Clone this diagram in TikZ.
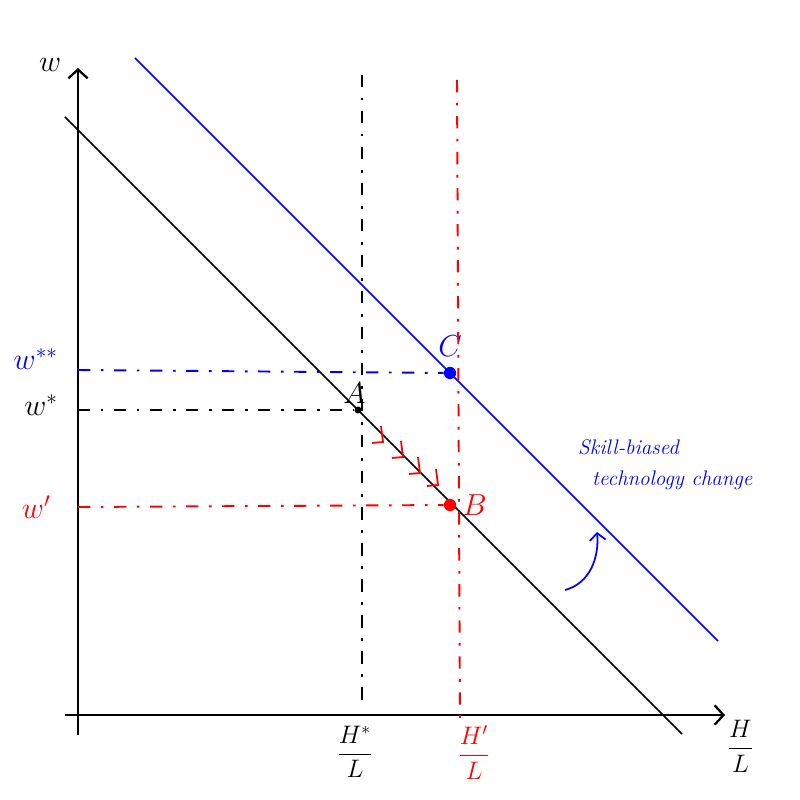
\documentclass[tikz,border=0pt]{standalone}
\usepackage{amsmath}
\usetikzlibrary{arrows.meta,positioning}

\begin{document}
\begin{tikzpicture}[
                x=0.02cm, y=-0.02cm,
                axis/.style={line width=1.3pt, -{Straight Barb[length=5pt, width=11pt]}},
                curve/.style={line width=0.9pt},
                guide/.style={line width=1.1pt, dash pattern=on 7pt off 6pt on 1.5pt off 6pt},
                Point/.style={circle, fill, inner sep=0pt, minimum size=7pt},
                lab/.style={font=\LARGE},
                frac/.style={font=\Large, inner sep=1pt},
                note/.style={font=\large\itshape, text=blue},
            ]
            \useasboundingbox (0,0) rectangle (800,800);

            % axes
            \coordinate (O) at (78,715);
            \coordinate (ytop) at (78,68);
            \coordinate (ybot) at (78,735);
            \coordinate (xleft) at (65,715);
            \coordinate (xright) at (725,715);
            \draw[axis] (ybot) -- (ytop);
            \draw[axis] (xleft) -- (xright);
            \node [lab, left=6pt of ytop, yshift=2pt] (wlab) {$w$};
            \node [frac, below right=2pt and 0pt of xright] (hl) {$\dfrac{H}{L}$};

            % demand curves
            \coordinate (d1) at (65,117);
            \coordinate (d2) at (682,734);
            \coordinate (s1) at (135,58);
            \coordinate (s2) at (718,641);
            \draw[curve] (d1) -- (d2);
            \draw[curve, blue] (s1) -- (s2);

            % points
            \node [Point, minimum size=4pt, label={[lab, yshift=-2pt, xshift=-2pt]above:$A$}] (A) at (358,410) {};
            \node [Point, red, label={[lab, red]right:$B$}] (B) at (450,505) {};
            \node [Point, blue, label={[lab, blue, yshift=2pt]above:$C$}] (C) at (450,373) {};

            % guides
            \coordinate (hstar) at (362,75);
            \coordinate (hstarb) at (362,705);
            \coordinate (hprime) at (457,80);
            \coordinate (hprimeb) at (460,725);
            \draw[guide] (hstar) -- (hstarb);
            \draw[guide, red] (hprime) -- (hprimeb);
            \node [frac, below=5pt of hstarb |- O, xshift=-4pt] (hs) {$\dfrac{H^*}{L}$};
            \node [frac, red, below=5pt of hprimeb |- O, xshift=8pt] (hp) {$\dfrac{H'}{L}$};

            \coordinate (wss) at (78,370);
            \coordinate (ws) at (78,410);
            \coordinate (wp) at (78,507);
            \draw[guide, blue] (wss) -- (C);
            \draw[guide] (ws) -- (A);
            \draw[guide, red] (wp) -- (B);
            \node [lab, blue, left=8pt of wss, yshift=6pt] (wsslab) {$w^{**}$};
            \node [lab, left=8pt of ws, yshift=3pt] (wslab) {$w^*$};
            \node [lab, red, left=12pt of wp] (wplab) {$w'$};

            % move from A to B
            \foreach \x/\y in {383/442, 403/457, 420/473, 438/485}
                \draw[red, line width=1pt] (\x-2,\y-16) -- (\x,\y) -- (\x-11,\y+1);

            % technology shift
            \coordinate (sh1) at (565,590);
            \coordinate (sh2) at (597,532);
            \draw[blue, line width=1pt, -{Straight Barb[length=4pt, width=9pt]}] (sh1) to[out=15, in=-85] (sh2);
            \node [note, anchor=west] (skill) at (572,447) {Skill-biased};
            \node [note, anchor=west] (tech) at (586,480) {technology change};
        \end{tikzpicture}
\end{document}
